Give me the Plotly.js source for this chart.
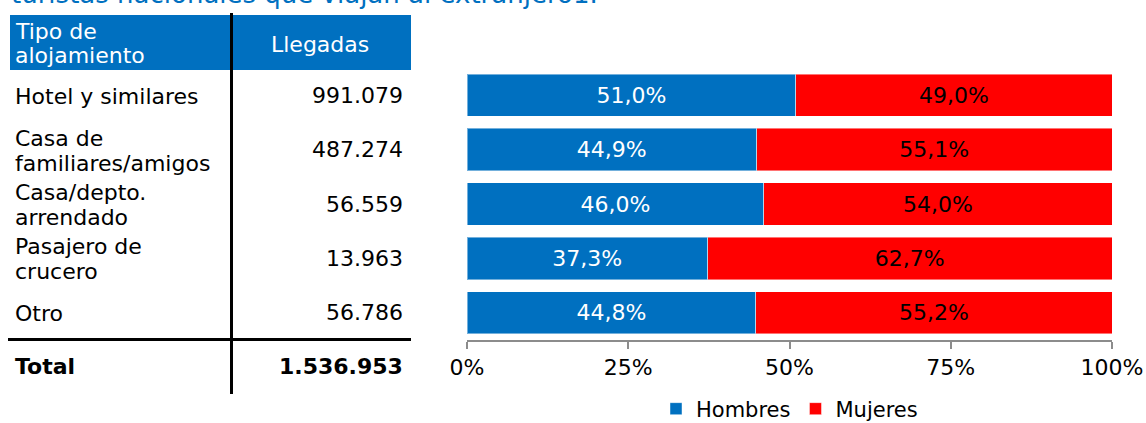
<!DOCTYPE html>
<html>
<head>
<meta charset="utf-8">
<script src="https://cdn.plot.ly/plotly-3.0.1.min.js"></script>
<style>
  html, body { margin: 0; padding: 0; background: #fff; }
  #chart { width: 1146px; height: 423px; }
</style>
</head>
<body>
<div id="chart"></div>
<script>
// ---- Data ----
const tituloTexto = 'turistas nacionales que viajan al extranjero1.';
const encabezadoTipo = 'Tipo de<br>alojamiento';
const encabezadoLlegadas = 'Llegadas';
const tipos = ['Hotel y similares', 'Casa de<br>familiares/amigos', 'Casa/depto.<br>arrendado', 'Pasajero de<br>crucero', 'Otro'];
const llegadas = ['991.079', '487.274', '56.559', '13.963', '56.786'];
const totalEtiqueta = 'Total';
const totalLlegadas = '1.536.953';
const hombres = [51.0, 44.9, 46.0, 37.3, 44.8];
const mujeres = [49.0, 55.1, 54.0, 62.7, 55.2];
const xTicks = [0, 25, 50, 75, 100];
const xTickText = ['0%', '25%', '50%', '75%', '100%'];

// ---- Layout helpers ----
const W = 1146, H = 423;
const M = { l: 467, r: 34, t: 68, b: 83, autoexpand: false };
const plotW = W - M.l - M.r, plotH = H - M.t - M.b;
const px2x = px => (px - M.l) / plotW;
const py2y = py => (H - M.b - py) / plotH;

const FONT = 'DejaVu Sans, Verdana, sans-serif';
const BLUE = '#0070C0';
const RED = '#FF0000';

const traces = [
  {
    type: 'bar', orientation: 'h', name: 'Hombres',
    y: tipos, x: hombres,
    marker: { color: BLUE, line: { color: 'rgba(255,255,255,0.45)', width: 1 } },
    texttemplate: '%{x:.1f}%', textposition: 'inside', insidetextanchor: 'middle',
    textfont: { family: FONT, size: 22, color: '#ffffff' },
    constraintext: 'none', hoverinfo: 'skip'
  },
  {
    type: 'bar', orientation: 'h', name: 'Mujeres',
    y: tipos, x: mujeres,
    marker: { color: RED, line: { color: 'rgba(255,255,255,0.45)', width: 1 } },
    texttemplate: '%{x:.1f}%', textposition: 'inside', insidetextanchor: 'middle',
    textfont: { family: FONT, size: 22, color: '#000000' },
    constraintext: 'none', hoverinfo: 'skip'
  }
];

const annotations = [];
// Title (cut at the top edge as in the reference)
annotations.push({
  xref: 'paper', yref: 'paper', x: px2x(9), y: py2y(-6),
  xanchor: 'left', yanchor: 'middle', showarrow: false,
  text: tituloTexto, font: { family: FONT, size: 26, color: BLUE }
});
// Header texts
encabezadoTipo.split('<br>').forEach((t, i) => {
  annotations.push({
    xref: 'paper', yref: 'paper', x: px2x(13), y: py2y(31 + i * 25),
    xanchor: 'left', yanchor: 'middle', showarrow: false,
    text: t, font: { family: FONT, size: 22, color: '#ffffff' }
  });
});
annotations.push({
  xref: 'paper', yref: 'paper', x: px2x(320), y: py2y(44),
  xanchor: 'center', yanchor: 'middle', showarrow: false,
  text: encabezadoLlegadas, font: { family: FONT, size: 22, color: '#ffffff' }
});
// Rows
tipos.forEach((t, i) => {
  const lines = t.split('<br>');
  lines.forEach((ln, j) => {
    annotations.push({
      xref: 'paper', yref: 'y', x: px2x(13), y: t,
      yshift: -((j - (lines.length - 1) / 2) * 25) - 1,
      xanchor: 'left', yanchor: 'middle', showarrow: false,
      text: ln, font: { family: FONT, size: 22, color: '#000000' }
    });
  });
  annotations.push({
    xref: 'paper', yref: 'y', x: px2x(405), y: t, yshift: 0,
    xanchor: 'right', yanchor: 'middle', showarrow: false,
    text: llegadas[i], font: { family: FONT, size: 22, color: '#000000' }
  });
});
// Total row
annotations.push({
  xref: 'paper', yref: 'paper', x: px2x(13), y: py2y(366),
  xanchor: 'left', yanchor: 'middle', showarrow: false,
  text: '<b>' + totalEtiqueta + '</b>', font: { family: FONT, size: 22, color: '#000000' }
});
annotations.push({
  xref: 'paper', yref: 'paper', x: px2x(405), y: py2y(366),
  xanchor: 'right', yanchor: 'middle', showarrow: false,
  text: '<b>' + totalLlegadas + '</b>', font: { family: FONT, size: 22, color: '#000000' }
});

const shapes = [
  { type: 'rect', xref: 'paper', yref: 'paper', x0: px2x(10), x1: px2x(411), y0: py2y(70), y1: py2y(15),
    fillcolor: BLUE, line: { width: 0 }, layer: 'below' },
  { type: 'line', xref: 'paper', yref: 'paper', x0: px2x(231.5), x1: px2x(231.5), y0: py2y(13), y1: py2y(394),
    line: { color: '#000000', width: 3 } },
  { type: 'line', xref: 'paper', yref: 'paper', x0: px2x(8), x1: px2x(411), y0: py2y(339.5), y1: py2y(339.5),
    line: { color: '#000000', width: 3 } }
];

const layout = {
  width: W, height: H,
  margin: M,
  paper_bgcolor: '#ffffff', plot_bgcolor: '#ffffff',
  separators: ',.',
  barmode: 'stack', bargap: 0.224,
  font: { family: FONT, size: 22, color: '#000000' },
  xaxis: {
    range: [0, 100], tickmode: 'array', tickvals: xTicks, ticktext: xTickText,
    showgrid: false, zeroline: false,
    showline: true, linecolor: '#8c8c8c', linewidth: 2,
    ticks: 'outside', ticklen: 7, tickwidth: 2, tickcolor: '#8c8c8c',
    tickfont: { family: FONT, size: 22, color: '#000000' },
    automargin: false, fixedrange: true
  },
  yaxis: {
    type: 'category', autorange: 'reversed',
    showticklabels: false, showgrid: false, zeroline: false, showline: false, ticks: '',
    automargin: false, fixedrange: true
  },
  showlegend: true,
  legend: {
    orientation: 'h', x: 0.5, xanchor: 'center', y: py2y(409), yanchor: 'middle',
    font: { family: FONT, size: 21, color: '#000000' }, traceorder: 'normal',
    bgcolor: 'rgba(0,0,0,0)', tracegroupgap: 0, itemwidth: 30
  },
  annotations: annotations,
  shapes: shapes
};

Plotly.newPlot('chart', traces, layout, { displayModeBar: false, staticPlot: true });
</script>
</body>
</html>
